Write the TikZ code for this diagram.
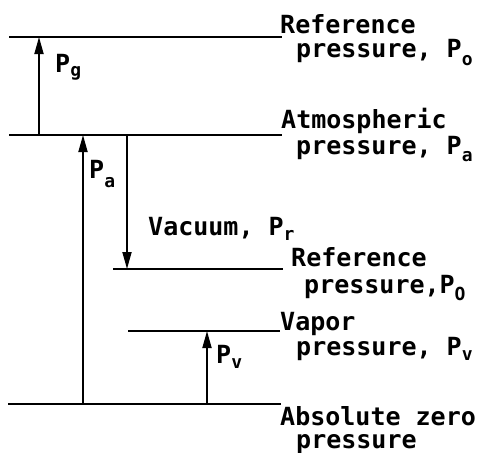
\documentclass[tikz,border=0pt]{standalone}
\usepackage{fontspec}
\setmainfont{DejaVu Sans Mono}
\usetikzlibrary{arrows.meta}
\newcommand\lsub[2][6pt]{\raisebox{-#1}{\fontsize{18}{18}\selectfont #2}}
\tikzset{
  level/.style={line width=2.4pt},
  meas/.style={line width=1.8pt,-{Triangle[length=17pt,width=9pt]}},
  lbl/.style={anchor=base west,inner sep=0pt,font=\fontsize{25}{25}\selectfont\bfseries},
}
\begin{document}
\begin{tikzpicture}[x=1pt,y=-1pt]
\useasboundingbox (0,0) rectangle (488,453);
% level lines
\coordinate (l1a) at (9,37);   \coordinate (l1b) at (282,37);
\coordinate (l2a) at (9,135);  \coordinate (l2b) at (282,135);
\coordinate (l3a) at (113,269);\coordinate (l3b) at (283,269);
\coordinate (l4a) at (128,331);\coordinate (l4b) at (280,331);
\coordinate (l5a) at (8,404);  \coordinate (l5b) at (281,404);
\draw[level] (l1a) -- (l1b);
\draw[level] (l2a) -- (l2b);
\draw[level] (l3a) -- (l3b);
\draw[level] (l4a) -- (l4b);
\draw[level] (l5a) -- (l5b);
% arrow ends
\coordinate (g0) at (39,135); \coordinate (g1) at (39,37);
\coordinate (a0) at (83,404); \coordinate (a1) at (83,135);
\coordinate (r0) at (127,135);\coordinate (r1) at (127,269);
\coordinate (v0) at (207,404);\coordinate (v1) at (207,331);
\draw[meas] (g0) -- (g1);
\draw[meas] (a0) -- (a1);
\draw[meas] (r0) -- (r1);
\draw[meas] (v0) -- (v1);
% labels
\node[lbl] (pg) at (55,72) {P\lsub[4pt]{g}};
\node[lbl] (pa) at (89,178) {P\lsub[9pt]{a}};
\node[lbl] (pv) at (216,363) {P\lsub[5pt]{v}};
\node[lbl] (vac) at (148,235) {Vacuum, P\lsub[5pt]{r}};
\node[lbl] (t1) at (280,33) {Reference};
\node[lbl] (t2) at (296,57) {pressure, P\lsub[8pt]{o}};
\node[lbl] (t3) at (281,128) {Atmospheric};
\node[lbl] (t4) at (296,154) {pressure, P\lsub[7pt]{a}};
\node[lbl] (t5) at (291,266) {Reference};
\node[lbl] (t6) at (304,293) {pressure,P\lsub[7pt]{O}};
\node[lbl] (t7) at (280,330) {Vapor};
\node[lbl] (t8) at (296,355) {pressure, P\lsub[5pt]{v}};
\node[lbl] (t9) at (280,425) {Absolute zero};
\node[lbl] (t10) at (296,448) {pressure};
\end{tikzpicture}
\end{document}
